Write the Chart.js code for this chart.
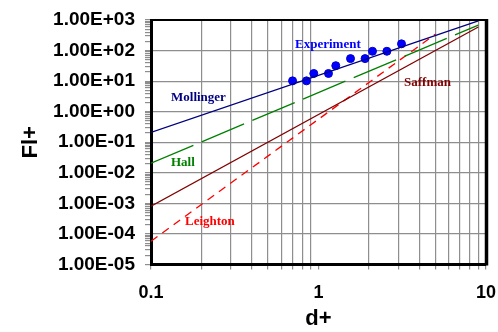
<!DOCTYPE html>
<html>
<head>
<meta charset="utf-8">
<script src="https://cdn.jsdelivr.net/npm/chart.js@4.4.1/dist/chart.umd.min.js"></script>
<style>
    html, body { margin: 0; padding: 0; background: #fff; }
    canvas { display: block; }
</style>
</head>
<body>
<canvas id="lift-chart" width="498" height="332"></canvas>
<script>
/* Lift force Fl+ vs particle size d+ — log-log comparison of correlations */
var xDecades = [0.1, 1, 10];
var xTickLabels = ["0.1", "1", "10"];
var yDecades = [1e-5, 1e-4, 1e-3, 1e-2, 1e-1, 1e0, 1e1, 1e2, 1e3];
var yTickLabels = ["1.00E-05", "1.00E-04", "1.00E-03", "1.00E-02", "1.00E-01",
                   "1.00E+00", "1.00E+01", "1.00E+02", "1.00E+03"];

var expX = [0.70, 0.848, 0.937, 1.147, 1.268, 1.553, 1.897, 2.10, 2.56, 3.13];
var expY = [10.2, 10.2, 17.8, 17.8, 32, 54.5, 54.5, 94.8, 94.8, 166];

var lineX = [0.1, 9];
var mollingerY = [0.21, 930];
var hallY = [0.0206, 680];
var saffmanY = [0.00081, 590];
var leightonX = [0.1, 5];
var leightonY = [0.0000576, 350];

(function () {
    "use strict";

    var gridGrey = "#8e8e8e";
    var clear = "rgba(0,0,0,0)";

    function pts(xs, ys) {
        return xs.map(function (x, i) { return { x: x, y: ys[i] }; });
    }

    // decades plus 2..9 sub-ticks between them
    function withMinors(decades) {
        var out = [];
        decades.forEach(function (d, i) {
            out.push(d);
            if (i < decades.length - 1) {
                for (var m = 2; m <= 9; m++) out.push(d * m);
            }
        });
        return out;
    }

    function decadeIndex(decades, v) {
        for (var i = 0; i < decades.length; i++) {
            if (Math.abs(v - decades[i]) / decades[i] < 1e-6) return i;
        }
        return -1;
    }

    var tickFont = { family: "'Liberation Sans', Arial, sans-serif", size: 19, weight: "bold" };
    var titleFont = { family: "'Liberation Sans', Arial, sans-serif", size: 22, weight: "bold" };

    var notesPlugin = {
        id: "notes",
        afterDraw: function (chart) {
            var ctx = chart.ctx;
            var a = chart.chartArea;
            ctx.save();
            // frame: top and right edges
            ctx.strokeStyle = "#000";
            ctx.lineWidth = 2;
            ctx.beginPath();
            ctx.moveTo(a.left, a.top);
            ctx.lineTo(a.right, a.top);
            ctx.stroke();
            ctx.lineWidth = 3.5;
            ctx.beginPath();
            ctx.moveTo(a.right + 0.5, a.top - 1);
            ctx.lineTo(a.right + 0.5, a.bottom + 1);
            ctx.stroke();

            ctx.font = "bold 13px 'Liberation Serif', 'Times New Roman', serif";
            ctx.textAlign = "left";
            ctx.textBaseline = "middle";
            var notes = [
                ["Experiment", "#0000ff", 295, 45],
                ["Mollinger", "#000080", 171, 98],
                ["Hall", "#008000", 171, 163],
                ["Saffman", "#800000", 404, 83],
                ["Leighton", "#ff0000", 185, 222]
            ];
            notes.forEach(function (n) {
                ctx.fillStyle = n[1];
                ctx.fillText(n[0], n[2], n[3]);
            });
            ctx.restore();
        }
    };

    new Chart(document.getElementById("lift-chart").getContext("2d"), {
        type: "scatter",
        data: {
            datasets: [
                {
                    label: "Mollinger",
                    data: pts(lineX, mollingerY),
                    showLine: true,
                    borderColor: "#000080",
                    borderWidth: 1.3,
                    pointRadius: 0
                },
                {
                    label: "Hall",
                    data: pts(lineX, hallY),
                    showLine: true,
                    borderColor: "#008000",
                    borderWidth: 1.3,
                    borderDash: [46, 9],
                    pointRadius: 0
                },
                {
                    label: "Saffman",
                    data: pts(lineX, saffmanY),
                    showLine: true,
                    borderColor: "#800000",
                    borderWidth: 1.3,
                    pointRadius: 0
                },
                {
                    label: "Leighton",
                    data: pts(leightonX, leightonY),
                    showLine: true,
                    borderColor: "#ff0000",
                    borderWidth: 1.3,
                    borderDash: [8, 6],
                    pointRadius: 0
                },
                {
                    label: "Experiment",
                    data: pts(expX, expY),
                    showLine: false,
                    backgroundColor: "#0000ff",
                    borderColor: "#0000cc",
                    borderWidth: 1,
                    pointRadius: 4
                }
            ]
        },
        options: {
            responsive: false,
            animation: false,
            layout: { padding: { top: 20, right: 12, left: 0, bottom: 0 } },
            plugins: {
                legend: { display: false },
                tooltip: { enabled: false }
            },
            scales: {
                x: {
                    type: "logarithmic",
                    min: 0.1,
                    max: 10,
                    afterBuildTicks: function (scale) {
                        scale.ticks = withMinors(xDecades).map(function (v) { return { value: v }; });
                    },
                    afterFit: function (scale) {
                        scale.height = 67.5;
                        scale.paddingLeft = 0;
                        scale.paddingRight = 0;
                    },
                    ticks: {
                        autoSkip: false,
                        maxRotation: 0,
                        padding: 13,
                        color: "#000",
                        font: { family: tickFont.family, size: 18, weight: "bold" },
                        callback: function (v) {
                            var i = decadeIndex(xDecades, v);
                            return i >= 0 ? xTickLabels[i] : "";
                        }
                    },
                    grid: {
                        lineWidth: 1.2,
                        tickLength: 5,
                        color: function (c) {
                            return c.tick && decadeIndex(xDecades, c.tick.value) >= 0 ? clear : gridGrey;
                        },
                        tickColor: gridGrey
                    },
                    border: { display: true, color: "#000", width: 3 },
                    title: {
                        display: true,
                        text: "d+",
                        color: "#000",
                        font: titleFont,
                        padding: { top: 0, bottom: 0 }
                    }
                },
                y: {
                    type: "logarithmic",
                    min: 1e-5,
                    max: 1e3,
                    afterBuildTicks: function (scale) {
                        scale.ticks = withMinors(yDecades).map(function (v) { return { value: v }; });
                    },
                    afterFit: function (scale) {
                        scale.width = 151;
                        scale.paddingTop = 0;
                        scale.paddingBottom = 0;
                    },
                    ticks: {
                        autoSkip: false,
                        padding: 10,
                        color: "#000",
                        font: tickFont,
                        callback: function (v) {
                            var i = decadeIndex(yDecades, v);
                            return i >= 0 ? yTickLabels[i] : "";
                        }
                    },
                    grid: {
                        lineWidth: 1.2,
                        tickLength: 6,
                        color: function (c) {
                            return c.tick && decadeIndex(yDecades, c.tick.value) >= 0 ? gridGrey : clear;
                        },
                        tickColor: gridGrey
                    },
                    border: { display: true, color: "#000", width: 3 },
                    title: {
                        display: true,
                        text: "Fl+",
                        color: "#000",
                        font: titleFont,
                        padding: { top: 18, bottom: 0 }
                    }
                }
            }
        },
        plugins: [notesPlugin]
    });
})();
</script>
</body>
</html>
